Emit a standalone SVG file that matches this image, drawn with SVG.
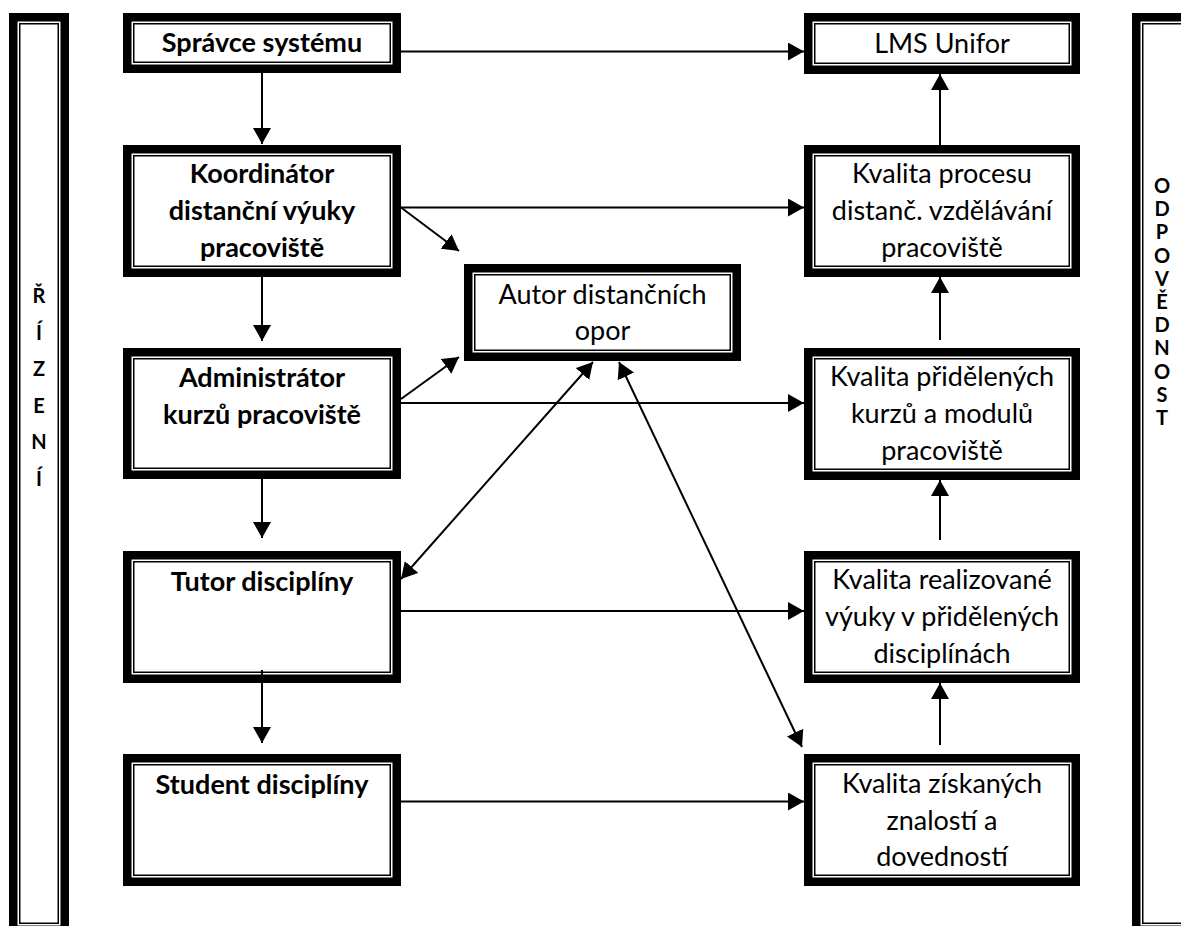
<svg xmlns="http://www.w3.org/2000/svg" width="1181" height="926" viewBox="0 0 1181 926">
<style>
.thick{fill:#fff;stroke:#000;stroke-width:8.5}
.thin{fill:none;stroke:#000;stroke-width:1.5}
text{font-family:Lato,"Liberation Sans",sans-serif;font-size:27px;fill:#000;text-anchor:middle}
.b{font-weight:bold}
.v{font-weight:bold;font-size:20px}
#connectors line{stroke:#000;stroke-width:2}
</style>
<defs>
<marker id="ah" markerUnits="userSpaceOnUse" markerWidth="17" markerHeight="18" refX="16" refY="9" orient="auto-start-reverse">
<path d="M0,0 L16,9 L0,18 z" fill="#000"/>
</marker>
</defs>
<rect width="1181" height="926" fill="#fff"/>

<g id="rizeni">
<rect class="thick" x="13.25" y="17.25" width="51.5" height="912.5"/>
<rect class="thin" x="19.75" y="23.75" width="38.5" height="899.5"/>
<text class="v" x="39" y="303">Ř</text>
<text class="v" x="39" y="340">Í</text>
<text class="v" x="39" y="376">Z</text>
<text class="v" x="39" y="413">E</text>
<text class="v" x="39" y="449">N</text>
<text class="v" x="39" y="486">Í</text>
</g>

<g id="odpovednost">
<rect class="thick" x="1136.25" y="17.25" width="91.5" height="912.5"/>
<rect class="thin" x="1142.75" y="23.75" width="78.5" height="899.5"/>
<text class="v" x="1162" y="193">O</text>
<text class="v" x="1162" y="216">D</text>
<text class="v" x="1162" y="239">P</text>
<text class="v" x="1162" y="263">O</text>
<text class="v" x="1162" y="286">V</text>
<text class="v" x="1162" y="309">Ě</text>
<text class="v" x="1162" y="332">D</text>
<text class="v" x="1162" y="355">N</text>
<text class="v" x="1162" y="379">O</text>
<text class="v" x="1162" y="402">S</text>
<text class="v" x="1162" y="425">T</text>
</g>

<g id="spravce">
<rect class="thick" x="127.25" y="17.25" width="269.5" height="51.5"/>
<rect class="thin" x="133.75" y="23.75" width="256.5" height="38.5"/>
<text class="b" x="262" y="52">Správce systému</text>
</g>

<g id="koordinator">
<rect class="thick" x="127.25" y="149.25" width="269.5" height="123.5"/>
<rect class="thin" x="133.75" y="155.75" width="256.5" height="110.5"/>
<text class="b" x="262" y="183">Koordinátor</text>
<text class="b" x="262" y="220">distanční výuky</text>
<text class="b" x="262" y="257">pracoviště</text>
</g>

<g id="administrator">
<rect class="thick" x="127.25" y="352.25" width="269.5" height="122.5"/>
<rect class="thin" x="133.75" y="358.75" width="256.5" height="109.5"/>
<text class="b" x="262" y="387">Administrátor</text>
<text class="b" x="262" y="424">kurzů pracoviště</text>
</g>

<g id="tutor">
<rect class="thick" x="127.25" y="555.25" width="269.5" height="123.5"/>
<rect class="thin" x="133.75" y="561.75" width="256.5" height="110.5"/>
<text class="b" x="262" y="591">Tutor disciplíny</text>
</g>

<g id="student">
<rect class="thick" x="127.25" y="758.25" width="269.5" height="123.5"/>
<rect class="thin" x="133.75" y="764.75" width="256.5" height="110.5"/>
<text class="b" x="262" y="794">Student disciplíny</text>
</g>

<g id="autor">
<rect class="thick" x="468.25" y="268.25" width="268.5" height="88.5"/>
<rect class="thin" x="474.75" y="274.75" width="255.5" height="75.5"/>
<text x="602.5" y="304">Autor distančních</text>
<text x="602.5" y="340">opor</text>
</g>

<g id="lms">
<rect class="thick" x="808.25" y="17.25" width="267.5" height="52.5"/>
<rect class="thin" x="814.75" y="23.75" width="254.5" height="39.5"/>
<text x="942" y="53">LMS Unifor</text>
</g>

<g id="kvalita-procesu">
<rect class="thick" x="808.25" y="149.25" width="267.5" height="123.5"/>
<rect class="thin" x="814.75" y="155.75" width="254.5" height="110.5"/>
<text x="942" y="183">Kvalita procesu</text>
<text x="942" y="220">distanč. vzdělávání</text>
<text x="942" y="257">pracoviště</text>
</g>

<g id="kvalita-kurzu">
<rect class="thick" x="808.25" y="352.25" width="267.5" height="123.5"/>
<rect class="thin" x="814.75" y="358.75" width="254.5" height="110.5"/>
<text x="942" y="386">Kvalita přidělených</text>
<text x="942" y="423">kurzů a modulů</text>
<text x="942" y="460">pracoviště</text>
</g>

<g id="kvalita-vyuky">
<rect class="thick" x="808.25" y="555.25" width="267.5" height="123.5"/>
<rect class="thin" x="814.75" y="561.75" width="254.5" height="110.5"/>
<text x="942" y="589">Kvalita realizované</text>
<text x="942" y="626">výuky v přidělených</text>
<text x="942" y="663">disciplínách</text>
</g>

<g id="kvalita-znalosti">
<rect class="thick" x="808.25" y="758.25" width="267.5" height="123.5"/>
<rect class="thin" x="814.75" y="764.75" width="254.5" height="110.5"/>
<text x="942" y="793">Kvalita získaných</text>
<text x="942" y="830">znalostí a</text>
<text x="942" y="866">dovedností</text>
</g>

<g id="connectors">
<line x1="262" y1="73" x2="262" y2="144" marker-end="url(#ah)"/>
<line x1="262" y1="277" x2="262" y2="341" marker-end="url(#ah)"/>
<line x1="262" y1="479" x2="262" y2="538" marker-end="url(#ah)"/>
<line x1="262" y1="670" x2="262" y2="743" marker-end="url(#ah)"/>
<line x1="401" y1="51.5" x2="804" y2="51.5" marker-end="url(#ah)"/>
<line x1="401" y1="207.5" x2="804" y2="207.5" marker-end="url(#ah)"/>
<line x1="401" y1="403" x2="804" y2="403" marker-end="url(#ah)"/>
<line x1="401" y1="611" x2="804" y2="611" marker-end="url(#ah)"/>
<line x1="401" y1="801.5" x2="804" y2="801.5" marker-end="url(#ah)"/>
<line x1="401" y1="207.5" x2="459" y2="251" marker-end="url(#ah)"/>
<line x1="401" y1="399" x2="459" y2="357" marker-end="url(#ah)"/>
<line x1="401" y1="579" x2="593" y2="362" marker-start="url(#ah)" marker-end="url(#ah)"/>
<line x1="619" y1="362" x2="802" y2="747" marker-start="url(#ah)" marker-end="url(#ah)"/>
<line x1="940" y1="145" x2="940" y2="74" marker-end="url(#ah)"/>
<line x1="940" y1="340" x2="940" y2="277" marker-end="url(#ah)"/>
<line x1="940" y1="540" x2="940" y2="480" marker-end="url(#ah)"/>
<line x1="940" y1="745" x2="940" y2="683" marker-end="url(#ah)"/>
</g>
</svg>
